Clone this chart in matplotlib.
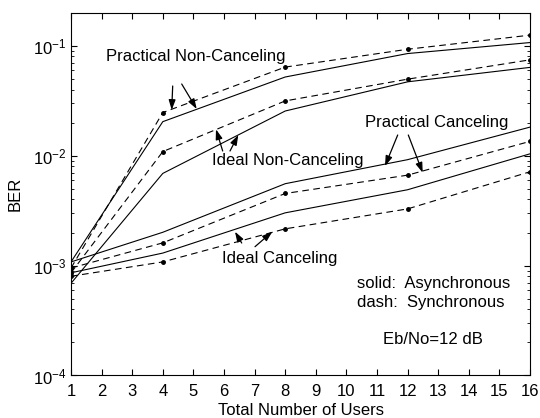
import matplotlib

matplotlib.use("Agg")
import matplotlib.pyplot as plt
import numpy as np

users = [1, 4, 8, 12, 16]

# asynchronous (solid) / synchronous (dash) BER at Eb/No = 12 dB
prac_noncancel_async = [1.08e-3, 0.0204, 0.052, 0.085, 0.107]
prac_noncancel_sync = [0.95e-3, 0.0247, 0.064, 0.093, 0.125]
ideal_noncancel_async = [0.69e-3, 0.0069, 0.0255, 0.047, 0.0636]
ideal_noncancel_sync = [0.86e-3, 0.0109, 0.0315, 0.0497, 0.0745]
prac_cancel_async = [1.08e-3, 0.00201, 0.00556, 0.0092, 0.0182]
prac_cancel_sync = [0.95e-3, 0.00161, 0.00453, 0.00665, 0.0135]
ideal_cancel_async = [0.86e-3, 0.0013, 0.00302, 0.0049, 0.0104]
ideal_cancel_sync = [0.80e-3, 0.00108, 0.00216, 0.00328, 0.00714]

plt.rcParams["font.family"] = ["Liberation Sans", "DejaVu Sans"]
plt.rcParams["mathtext.fontset"] = "custom"
plt.rcParams["mathtext.rm"] = "Liberation Sans"
plt.rcParams["font.size"] = 12

W, H = 540, 418
fig = plt.figure(figsize=(W / 100, H / 100), dpi=100)
ax = fig.add_axes([0.1315, 0.1017, 0.85, 0.8679])

for series in (prac_noncancel_async, ideal_noncancel_async, prac_cancel_async, ideal_cancel_async):
    ax.plot(users, series, "-", color="black", linewidth=0.8)
for series in (prac_noncancel_sync, ideal_noncancel_sync, prac_cancel_sync, ideal_cancel_sync):
    ax.plot(users, series, "--", color="black", linewidth=0.8, dashes=(6, 4),
            marker="o", markersize=2.5)

ax.set_yscale("log")
ax.set_xlim(1, 16)
ax.set_ylim(1e-4, 0.2)
ax.set_xticks(np.arange(1, 17))
ax.set_yticks([1e-4, 1e-3, 1e-2, 1e-1])
ax.tick_params(which="both", direction="in", top=True, right=True, labelsize=12)
ax.tick_params(which="major", length=4)
ax.tick_params(which="minor", length=2)
ax.tick_params(axis="x", pad=6)
ax.set_xlabel("Total Number of Users", fontsize=12, labelpad=3)
ax.set_ylabel("BER", fontsize=12, labelpad=7)

arrow = dict(arrowstyle="-|>,head_length=0.5,head_width=0.17", color="black",
             linewidth=0.9, mutation_scale=12, shrinkA=0, shrinkB=0)


def fig_text(x, y, text, ha="center"):
    # x, y in pixels from top-left of the image
    fig.text(x / W, 1 - y / H, text, ha=ha, va="center", fontsize=12)


def arrows(pairs):
    for (x0, y0), (x1, y1) in pairs:
        ax.annotate("", xy=(x1, H - y1), xycoords="figure pixels",
                    xytext=(x0, H - y0), textcoords="figure pixels",
                    arrowprops=arrow)


fig_text(196, 57, "Practical Non-Canceling")
arrows([((172.7, 86), (171.7, 110)), ((181.7, 84), (196.7, 109))])

fig_text(288, 161, "Ideal Non-Canceling")
arrows([((222.7, 151), (216, 129.3)), ((230, 151), (238.3, 135))])

fig_text(437, 122.3, "Practical Canceling")
arrows([((397.7, 135), (385, 166)), ((408.3, 135), (422.7, 172.7))])

fig_text(280, 258.3, "Ideal Canceling")
arrows([((241.7, 243), (235, 231.7)), ((255, 246.7), (272.3, 231.7))])

fig_text(357, 283.3, "solid:  Asynchronous", ha="left")
fig_text(357, 302.3, "dash:  Synchronous", ha="left")
fig_text(383, 340, "Eb/No=12 dB", ha="left")

fig.savefig("out.png", dpi=100)
